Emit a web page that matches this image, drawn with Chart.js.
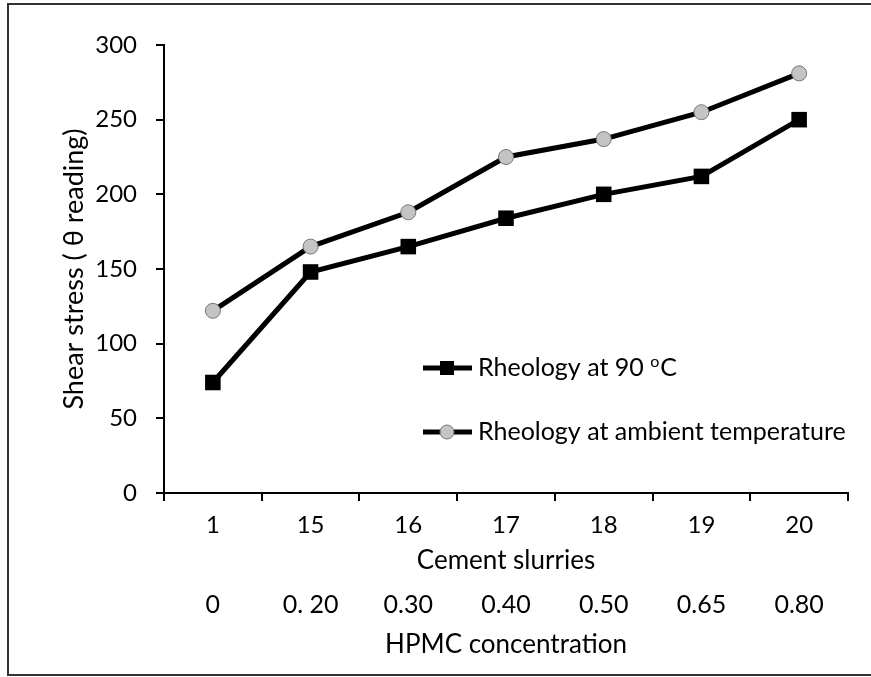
<!DOCTYPE html>
<html>
<head>
<meta charset="utf-8">
<script src="https://cdn.jsdelivr.net/npm/chart.js@4.4.1/dist/chart.umd.min.js"></script>
<style>
  body { margin: 0; background: #fff; }
  canvas { display: block; }
</style>
</head>
<body>
<canvas id="rheologyChart" width="871" height="677"></canvas>
<script>
// Data
const slurries = ['1', '15', '16', '17', '18', '19', '20'];
const hpmcConc = ['0', '0. 20', '0.30', '0.40', '0.50', '0.65', '0.80'];
const stress90 = [74, 148, 165, 184, 200, 212, 250];
const stressAmbient = [122, 165, 188, 225, 237, 255, 281];
const yTicks = [0, 50, 100, 150, 200, 250, 300];

const FONT = 'Lato, Carlito, Calibri, sans-serif';

// Frame around the whole figure
const framePlugin = {
    id: 'frame',
    beforeDraw(chart) {
        const ctx = chart.ctx;
        ctx.save();
        ctx.fillStyle = '#fff';
        ctx.fillRect(0, 0, chart.width, chart.height);
        ctx.strokeStyle = '#333';
        ctx.lineWidth = 2;
        ctx.strokeRect(8, 4, chart.width + 10, 671);
        ctx.restore();
    }
};

// Legend drawn inside the plot, as in the figure
const legendPlugin = {
    id: 'innerLegend',
    afterDraw(chart) {
        const ctx = chart.ctx;
        const rows = [368, 432];
        ctx.save();
        chart.data.datasets.forEach((ds, i) => {
            const y = rows[i];
            ctx.strokeStyle = '#000';
            ctx.lineWidth = 5;
            ctx.beginPath();
            ctx.moveTo(423, y);
            ctx.lineTo(472, y);
            ctx.stroke();
            ctx.fillStyle = ds.pointBackgroundColor;
            ctx.strokeStyle = ds.pointBorderColor;
            ctx.lineWidth = 1;
            if (ds.pointStyle === 'rect') {
                ctx.fillRect(440, y - 7, 14, 14);
            } else {
                ctx.beginPath();
                ctx.arc(447, y, 7, 0, Math.PI * 2);
                ctx.fill();
                ctx.stroke();
            }
            ctx.fillStyle = '#000';
            ctx.font = '25px ' + FONT;
            ctx.textBaseline = 'middle';
            ctx.textAlign = 'left';
            if (i === 0) {
                const base = 'Rheology at 90 ';
                ctx.fillText(base, 478, y);
                let x = 478 + ctx.measureText(base).width;
                ctx.font = '16px ' + FONT;
                ctx.fillText('o', x, y - 6);
                x += ctx.measureText('o').width + 1;
                ctx.font = '25px ' + FONT;
                ctx.fillText('C', x, y);
            } else {
                ctx.fillText(ds.label, 478, y);
            }
        });
        ctx.restore();
    }
};

const ctx = document.getElementById('rheologyChart').getContext('2d');
const rheologyChart = new Chart(ctx, {
    type: 'line',
    data: {
        labels: slurries,
        datasets: [
            {
                label: 'Rheology at 90 oC',
                data: stress90,
                borderColor: '#000',
                borderWidth: 5,
                pointStyle: 'rect',
                pointRadius: 11,
                pointBackgroundColor: '#000',
                pointBorderColor: '#000',
                pointBorderWidth: 0,
                tension: 0,
            },
            {
                label: 'Rheology at ambient temperature',
                data: stressAmbient,
                borderColor: '#000',
                borderWidth: 5,
                pointStyle: 'circle',
                pointRadius: 7.5,
                pointBackgroundColor: '#c4c4c4',
                pointBorderColor: '#777',
                pointBorderWidth: 1,
                tension: 0,
            },
        ],
    },
    options: {
        responsive: false,
        animation: false,
        layout: {
            padding: { left: 0, top: 45, right: 23, bottom: 12 },
        },
        plugins: {
            legend: { display: false },
            tooltip: { enabled: false },
        },
        scales: {
            y: {
                min: 0,
                max: 300,
                afterFit(scale) { scale.width = 164; },
                afterBuildTicks(scale) { scale.ticks = yTicks.map(v => ({ value: v })); },
                border: { display: true, color: '#000', width: 2 },
                grid: { drawOnChartArea: false, tickLength: 8, color: '#000', lineWidth: 2 },
                ticks: { color: '#000', padding: 19, font: { family: FONT, size: 24 } },
                title: {
                    display: true,
                    text: 'Shear stress ( θ reading)',
                    color: '#000',
                    font: { family: FONT, size: 27 },
                    padding: { top: 58 },
                },
            },
            x: {
                weight: 0,
                offset: true,
                afterFit(scale) { scale.height = 87; },
                border: { display: true, color: '#000', width: 2 },
                grid: { drawOnChartArea: false, offset: true, tickLength: 8, color: '#000', lineWidth: 2 },
                ticks: { color: '#000', padding: 10, font: { family: FONT, size: 24 } },
                title: {
                    display: true,
                    text: 'Cement slurries',
                    color: '#000',
                    font: { family: FONT, size: 26 },
                    padding: { top: 0, bottom: 4 },
                },
            },
            x2: {
                type: 'category',
                position: 'bottom',
                weight: 1,
                offset: true,
                labels: hpmcConc,
                afterFit(scale) { scale.height = 85; },
                border: { display: false },
                grid: { display: false },
                ticks: { color: '#000', padding: 2, font: { family: FONT, size: 25 } },
                title: {
                    display: true,
                    text: 'HPMC concentration',
                    color: '#000',
                    font: { family: FONT, size: 26 },
                    padding: { top: 0, bottom: 5 },
                },
            },
        },
    },
    plugins: [framePlugin, legendPlugin],
});
</script>
</body>
</html>
